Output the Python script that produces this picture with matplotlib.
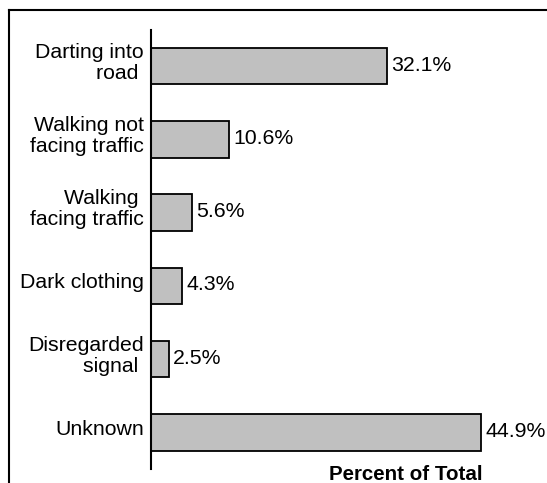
import matplotlib
matplotlib.use("Agg")
import matplotlib.pyplot as plt
from matplotlib.lines import Line2D

plt.rcParams["font.family"] = ["Liberation Sans", "DejaVu Sans"]

# pedestrian crash factors, share of total
categories = ["Darting into\nroad ", "Walking not\nfacing traffic", "Walking \nfacing traffic",
              "Dark clothing", "Disregarded\nsignal ", "Unknown"]
percents = [32.1, 10.6, 5.6, 4.3, 2.5, 44.9]
value_labels = ["32.1%", "10.6%", "5.6%", "4.3%", "2.5%", "44.9%"]

W, H = 547, 483
fig = plt.figure(figsize=(W / 100, H / 100), dpi=100)
ax = fig.add_axes([150.5 / W, (H - 469) / H, 390 / W, 439.5 / H])

ypos = list(range(len(categories)))
ax.barh(ypos, percents, height=0.5, color="#c0c0c0", edgecolor="black", linewidth=1.3)

ax.set_xlim(0, 390 / 7.36)
ax.set_ylim(5.5, -0.5)

# value labels right of each bar
for y, v, lab in zip(ypos, percents, value_labels):
    ax.text(v + 0.6, y - 0.015, lab, va="center", ha="left", fontsize=15.3)

# category labels, right aligned against the axis
for y, cat in zip(ypos, categories):
    ax.text(-0.88, y - 0.045, cat, va="center", ha="right", multialignment="right",
            fontsize=15.3, linespacing=1.12, clip_on=False)

ax.set_xticks([])
ax.set_yticks([])
for s in ["top", "right", "bottom"]:
    ax.spines[s].set_visible(False)
ax.spines["left"].set_linewidth(1.5)

fig.text(406 / W, 1 - 475 / H, "Percent of Total", ha="center", va="center",
         fontsize=14.8, fontweight="bold")

# frame around the chart (left and top edges)
fig.add_artist(Line2D([8.7 / W, 8.7 / W], [0, 1 - 10.3 / H], color="black", linewidth=1.5,
                      transform=fig.transFigure))
fig.add_artist(Line2D([8.7 / W, 1], [1 - 10.3 / H, 1 - 10.3 / H], color="black", linewidth=1.5,
                      transform=fig.transFigure))

fig.savefig("out.png", dpi=100)
